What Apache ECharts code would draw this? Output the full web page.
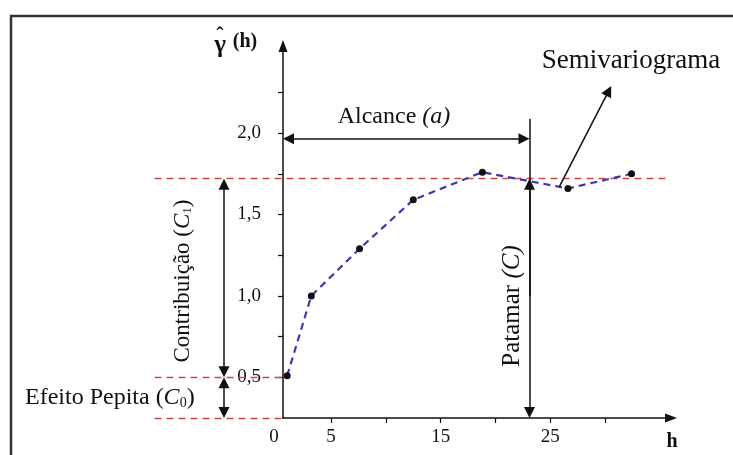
<!DOCTYPE html>
<html>
<head>
<meta charset="utf-8">
<title>Semivariograma</title>
<script src="https://cdn.jsdelivr.net/npm/echarts@6/dist/echarts.min.js"></script>
<style>
html, body { margin: 0; padding: 0; background: #fff; }
#chart { width: 733px; height: 455px; }
</style>
</head>
<body>
<div id="chart"></div>
<script>
// pontos do semivariograma experimental: distância h e semivariância
const lagH = [1.0, 3.2, 7.6, 12.5, 18.8, 26.6, 32.4];
const gammaH = [0.51, 1.0, 1.29, 1.59, 1.76, 1.66, 1.75];

// marcas dos eixos
const xTicks = [5, 10, 15, 20, 25, 30];
const xLabels = [5, 15, 25];
const yTicks = [0.5, 0.75, 1.0, 1.25, 1.5, 1.75, 2.0, 2.25];
const yLabels = [0.5, 1.0, 1.5, 2.0];

// parâmetros do modelo
const nugget = 0.5;   // efeito pepita C0
const sill = 1.72;    // patamar C
const range = 23.1;   // alcance a
const base = 0.25;    // nível do eixo h

// guias tracejadas: h inicial, h final, nível
const guideFrom = [-11.1, -11.1, -11.1];
const guideTo = [35.7, 0.62, 0.62];
const guideLevel = [sill, nugget, base];

// setas [h1, g1, h2, g2]
const arrowAlcance = [0.62, 1.966, range, 1.966];
const arrowContrib = [-4.76, sill, -4.76, nugget];
const arrowPepita = [-4.76, nugget, -4.76, base];
const arrowPatamarDown = [range, 2.086, range, base];
const arrowPatamarUp = [range, 1.0, range, sill];
const arrowSemivar = [25.8, 1.668, 30.55, 2.289];

const serif = '"Liberation Serif", "Times New Roman", serif';
const ink = '#111';
const HEAD = 11;

const chart = echarts.init(document.getElementById('chart'));

function fmt(v) {
  return v.toFixed(1).replace('.', ',');
}

const option = {
  backgroundColor: '#fff',
  animation: false,
  grid: { left: 283, right: 62, top: 46, bottom: 37 },
  xAxis: {
    type: 'value',
    min: 0.62,
    max: 36,
    splitLine: { show: false },
    axisLine: {
      lineStyle: { color: ink, width: 1.5 },
      symbol: ['none', 'triangle'],
      symbolSize: [9, 12]
    },
    axisTick: { customValues: xTicks, length: 5, lineStyle: { color: ink, width: 1.2 } },
    axisLabel: {
      customValues: xLabels,
      margin: 10,
      color: ink,
      fontFamily: serif,
      fontSize: 19
    }
  },
  yAxis: {
    type: 'value',
    min: base,
    max: 2.535,
    splitLine: { show: false },
    axisLine: {
      lineStyle: { color: ink, width: 1.5 },
      symbol: ['none', 'triangle'],
      symbolSize: [9, 12]
    },
    axisTick: { customValues: yTicks, length: 5, lineStyle: { color: ink, width: 1.2 } },
    axisLabel: {
      customValues: yLabels,
      margin: 22,
      color: ink,
      fontFamily: serif,
      fontSize: 19,
      padding: [0, 0, 10, 0],
      formatter: fmt
    }
  },
  series: [
    {
      name: 'guias',
      type: 'lines',
      coordinateSystem: 'cartesian2d',
      clip: false,
      symbol: 'none',
      lineStyle: { color: '#d24848', width: 1.3, type: [7, 5], opacity: 1 },
      data: guideLevel.map((g, i) => ({ coords: [[guideFrom[i], g], [guideTo[i], g]] })),
      z: 1
    },
    {
      name: 'semivariograma',
      type: 'line',
      data: lagH.map((h, i) => [h, gammaH[i]]),
      symbol: 'circle',
      symbolSize: 7,
      itemStyle: { color: '#111' },
      lineStyle: { color: '#4038aa', width: 2.2, type: [7, 5] },
      z: 3
    },
    {
      name: 'setasDuplas',
      type: 'lines',
      coordinateSystem: 'cartesian2d',
      clip: false,
      symbol: ['triangle', 'triangle'],
      symbolSize: HEAD,
      lineStyle: { color: ink, width: 1.5, opacity: 1 },
      data: [],
      z: 4
    },
    {
      name: 'setasSimples',
      type: 'lines',
      coordinateSystem: 'cartesian2d',
      clip: false,
      symbol: ['none', 'triangle'],
      symbolSize: HEAD,
      lineStyle: { color: ink, width: 1.5, opacity: 1 },
      data: [],
      z: 4
    }
  ],
  graphic: [
    {
      type: 'rect', silent: true,
      shape: { x: 11, y: 16, width: 780, height: 480 },
      style: { fill: 'none', stroke: '#333', lineWidth: 2.5 }
    },
    {
      type: 'text', x: 631, y: 61,
      style: { text: 'Semivariograma', fontFamily: serif, fontSize: 27, fill: ink, align: 'center', verticalAlign: 'middle' }
    },
    {
      type: 'text', x: 394, y: 117,
      style: {
        text: 'Alcance {i|(a)}', fontFamily: serif, fontSize: 24, fill: ink, align: 'center', verticalAlign: 'middle',
        rich: { i: { fontFamily: serif, fontSize: 24, fontStyle: 'italic', fill: ink } }
      }
    },
    {
      type: 'text', x: 183, y: 281, rotation: Math.PI / 2,
      style: {
        text: 'Contribuição ({i|C}{s|1})', fontFamily: serif, fontSize: 23, fill: ink, align: 'center', verticalAlign: 'middle',
        rich: {
          i: { fontFamily: serif, fontSize: 23, fontStyle: 'italic', fill: ink },
          s: { fontFamily: serif, fontSize: 13, fill: ink, padding: [10, 0, 0, 0] }
        }
      }
    },
    {
      type: 'text', x: 512, y: 306, rotation: Math.PI / 2,
      style: {
        text: 'Patamar {i|(C)}', fontFamily: serif, fontSize: 25, fill: ink, align: 'center', verticalAlign: 'middle',
        rich: { i: { fontFamily: serif, fontSize: 25, fontStyle: 'italic', fill: ink } }
      }
    },
    {
      type: 'text', x: 25, y: 398,
      style: {
        text: 'Efeito Pepita ({i|C}{s|0})', fontFamily: serif, fontSize: 24, fill: ink, align: 'left', verticalAlign: 'middle',
        rich: {
          i: { fontFamily: serif, fontSize: 24, fontStyle: 'italic', fill: ink },
          s: { fontFamily: serif, fontSize: 14, fill: ink, padding: [10, 0, 0, 0] }
        }
      }
    },
    {
      type: 'text', x: 220, y: 46,
      style: { text: 'γ', fontFamily: serif, fontSize: 25, fontWeight: 'bold', fill: ink, align: 'center', verticalAlign: 'middle' }
    },
    {
      type: 'text', x: 220, y: 36,
      style: { text: 'ˆ', fontFamily: serif, fontSize: 22, fontWeight: 'bold', fill: ink, align: 'center', verticalAlign: 'middle' }
    },
    {
      type: 'text', x: 245, y: 42,
      style: { text: '(h)', fontFamily: serif, fontSize: 20, fontWeight: 'bold', fill: ink, align: 'center', verticalAlign: 'middle' }
    },
    {
      type: 'text', x: 274, y: 437,
      style: { text: '0', fontFamily: serif, fontSize: 19, fill: ink, align: 'center', verticalAlign: 'middle' }
    },
    {
      type: 'text', x: 672, y: 442,
      style: { text: 'h', fontFamily: serif, fontSize: 20, fontWeight: 'bold', fill: ink, align: 'center', verticalAlign: 'middle' }
    }
  ]
};

chart.setOption(option);

// recua as extremidades com ponta para que a ponta caia sobre o ponto
function trim(seg, atStart, atEnd) {
  const p = chart.convertToPixel({ gridIndex: 0 }, [seg[0], seg[1]]);
  const q = chart.convertToPixel({ gridIndex: 0 }, [seg[2], seg[3]]);
  const dx = q[0] - p[0], dy = q[1] - p[1];
  const len = Math.hypot(dx, dy);
  const ux = dx / len, uy = dy / len;
  const a = atStart ? [p[0] + ux * HEAD / 2, p[1] + uy * HEAD / 2] : p;
  const b = atEnd ? [q[0] - ux * HEAD / 2, q[1] - uy * HEAD / 2] : q;
  return {
    coords: [
      chart.convertFromPixel({ gridIndex: 0 }, a),
      chart.convertFromPixel({ gridIndex: 0 }, b)
    ]
  };
}

chart.setOption({
  series: [
    {},
    {},
    { data: [arrowAlcance, arrowContrib, arrowPepita].map(s => trim(s, true, true)) },
    { data: [arrowPatamarDown, arrowPatamarUp, arrowSemivar].map(s => trim(s, false, true)) }
  ]
});
</script>
</body>
</html>
